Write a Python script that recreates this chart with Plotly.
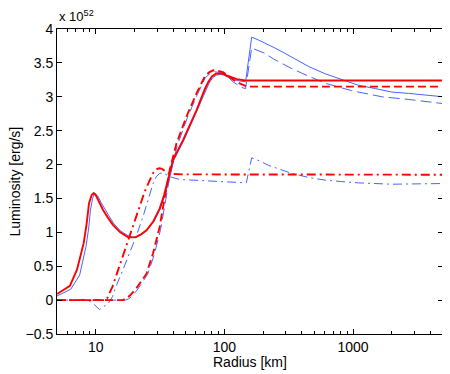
import plotly.graph_objects as go

# ---- data (radius in km, luminosity in 1e52 erg/s) ----
r_red_solid = [5, 6.3, 7.15, 8.06, 8.5, 8.87, 9.3, 9.65, 10.0, 10.3, 10.8, 11.4, 12.5, 13.6, 15.5, 17.8, 19.0,
               20.5, 22.5, 24.8, 28.0, 31.4, 34.0, 36.6, 39.9, 47.7, 60.7, 70, 75.0, 80, 86, 92, 98, 105,
               115, 125, 145, 5000]
L_red_solid = [0.09, 0.21, 0.45, 0.84, 1.13, 1.43, 1.55, 1.58, 1.55, 1.50, 1.42, 1.33, 1.21, 1.11, 1.00, 0.93,
               0.925, 0.93, 0.97, 1.03, 1.16, 1.35, 1.55, 1.77, 2.07, 2.36, 2.80, 3.10, 3.22, 3.30, 3.34, 3.345,
               3.34, 3.31, 3.28, 3.26, 3.24, 3.24]

r_blue_solid = [5, 6.4, 7.5, 8.4, 8.8, 9.1, 9.45, 9.77, 10.1, 10.5, 11.0, 11.6, 12.7, 13.8, 15.6, 17.8, 19.2,
                20.7, 22.7, 25, 28.3, 31.8, 34.5, 37.2, 40.5, 48.5, 61.5, 71, 76, 81, 87, 93, 99, 106, 116,
                125, 146, 163, 183, 210, 247, 290, 333, 448, 606, 814, 1098, 1500, 2000, 2700, 3611, 5000]
L_blue_solid = [0.06, 0.16, 0.37, 0.79, 1.05, 1.33, 1.50, 1.58, 1.56, 1.52, 1.44, 1.36, 1.24, 1.13, 1.02, 0.95,
                0.93, 0.935, 0.97, 1.03, 1.16, 1.35, 1.55, 1.77, 2.07, 2.36, 2.80, 3.08, 3.20, 3.28, 3.32, 3.33,
                3.32, 3.29, 3.26, 3.24, 3.22, 3.88, 3.84, 3.79, 3.72, 3.65, 3.59, 3.45, 3.34, 3.25, 3.17, 3.12,
                3.07, 3.05, 3.03, 3.00]

r_red_dash = [5, 16.3, 17.4, 18.5, 20.6, 22.5, 24.8, 27.9, 31.4, 34.4, 37.6, 42.4, 50.8, 60.7, 70.4, 76, 81.7,
              90, 98.3, 107, 117, 130, 140, 150, 5000]
L_red_dash = [0, 0, 0.03, 0.07, 0.17, 0.27, 0.39, 0.69, 1.08, 1.52, 1.92, 2.31, 2.71, 3.05, 3.30, 3.36, 3.39,
              3.38, 3.36, 3.31, 3.25, 3.20, 3.17, 3.15, 3.15]

r_blue_dash = [5, 17, 18, 19, 21, 23, 25.3, 28.4, 31.9, 35, 38, 43, 51.5, 61.5, 71, 77, 83, 91, 99, 108, 117,
               135, 146, 163, 180, 207, 240, 278, 330, 398, 490, 606, 977, 1673, 2715, 5000]
L_blue_dash = [0, 0, 0.02, 0.05, 0.15, 0.26, 0.38, 0.66, 1.04, 1.48, 1.88, 2.28, 2.69, 3.03, 3.28, 3.34, 3.37,
               3.36, 3.33, 3.28, 3.22, 3.14, 3.12, 3.72, 3.69, 3.64, 3.56, 3.49, 3.42, 3.35, 3.27, 3.20, 3.09,
               3.00, 2.96, 2.90]

r_red_dashdot = [5, 12.1, 13.5, 14.9, 16.5, 18.4, 20, 22.0, 24, 26.3, 28, 29.7, 31, 32.5, 34.5, 36.6, 40,
                 47.7, 5000]
L_red_dashdot = [0, 0, 0.2, 0.44, 0.68, 0.93, 1.15, 1.38, 1.6, 1.77, 1.88, 1.93, 1.945, 1.94, 1.91, 1.87, 1.86,
                 1.855, 1.85]

r_blue_dashdot = [5, 8, 9.0, 9.8, 10.7, 11.5, 12.5, 13.5, 14.5, 16.3, 18.4, 20.7, 23.3, 25.5, 27.9, 29.5,
                  31.4, 33.5, 37.6, 45, 72.6, 100, 140, 148, 163, 190, 219, 270, 333, 450, 606, 800, 1098,
                  2000, 4600, 5000]
L_blue_dashdot = [0, 0, -0.02, -0.07, -0.14, -0.10, -0.05, 0.05, 0.22, 0.45, 0.69, 0.95, 1.23, 1.48, 1.72, 1.82,
                  1.87, 1.88, 1.82, 1.78, 1.76, 1.75, 1.74, 1.73, 2.10, 2.05, 1.99, 1.93, 1.87, 1.81, 1.77, 1.75,
                  1.73, 1.71, 1.72, 1.72]

x_tick_vals = [10, 100, 1000]
x_tick_text = ["10", "100", "1000"]
x_minor_vals = [6, 7, 8, 9, 20, 30, 40, 50, 60, 70, 80, 90,
                200, 300, 400, 500, 600, 700, 800, 900, 2000, 3000, 4000, 5000]
y_tick_vals = [-0.5, 0, 0.5, 1, 1.5, 2, 2.5, 3, 3.5, 4]
y_tick_text = ["\u22120.5", "0", "0.5", "1", "1.5", "2", "2.5", "3", "3.5", "4"]

RED = "rgb(255,0,0)"
BLUE = "rgb(70,100,255)"

fig = go.Figure()
series = [
    (r_blue_solid, L_blue_solid, BLUE, 1.0, "solid"),
    (r_blue_dash, L_blue_dash, BLUE, 1.0, "11px,5px"),
    (r_blue_dashdot, L_blue_dashdot, BLUE, 1.0, "9px,4px,2px,4px"),
    (r_red_solid, L_red_solid, RED, 1.9, "solid"),
    (r_red_dash, L_red_dash, RED, 1.9, "8px,4px"),
    (r_red_dashdot, L_red_dashdot, RED, 1.9, "9px,4px,2px,4px"),
]
for xs, ys, col, w, dash in series:
    fig.add_trace(go.Scatter(x=xs, y=ys, mode="lines",
                             line=dict(color=col, width=w, dash=dash),
                             showlegend=False, hoverinfo="skip"))

FONT = "Liberation Sans, Arial, Helvetica, sans-serif"
fig.update_layout(
    width=442, height=366,
    margin=dict(l=49, r=7, t=21, b=40),
    paper_bgcolor="white", plot_bgcolor="white",
    font=dict(family=FONT, size=14, color="black"),
    showlegend=False,
    xaxis=dict(type="log", range=[0.69897, 3.69897],
               tickvals=x_tick_vals, ticktext=x_tick_text,
               ticks="inside", ticklen=5, tickwidth=1, tickcolor="black",
               minor=dict(tickvals=x_minor_vals, ticks="inside", ticklen=3, tickcolor="black", showgrid=False),
               showline=True, linecolor="black", linewidth=1, mirror="ticks",
               showgrid=False, zeroline=False, tickfont=dict(size=14)),
    yaxis=dict(range=[-0.5001, 4.0001],
               tickvals=y_tick_vals, ticktext=y_tick_text,
               ticks="inside", ticklen=5, tickwidth=1, tickcolor="black",
               showline=True, linecolor="black", linewidth=1, mirror="ticks",
               showgrid=False, zeroline=False, tickfont=dict(size=14)),
    annotations=[
        dict(text="Radius [km]", xref="paper", yref="paper", x=0.5, y=0,
             xanchor="center", yanchor="middle", yshift=-28, showarrow=False,
             font=dict(size=14)),
        dict(text="Luminosity [erg/s]", xref="paper", yref="paper", x=0, y=0.5,
             xanchor="center", yanchor="middle", xshift=-43, textangle=-90, showarrow=False,
             font=dict(size=14)),
        dict(text="x 10<sup>52</sup>", xref="paper", yref="paper", x=0, y=1,
             xanchor="left", yanchor="bottom", yshift=3, showarrow=False,
             font=dict(size=13)),
    ],
)

fig.write_html("out.html")
